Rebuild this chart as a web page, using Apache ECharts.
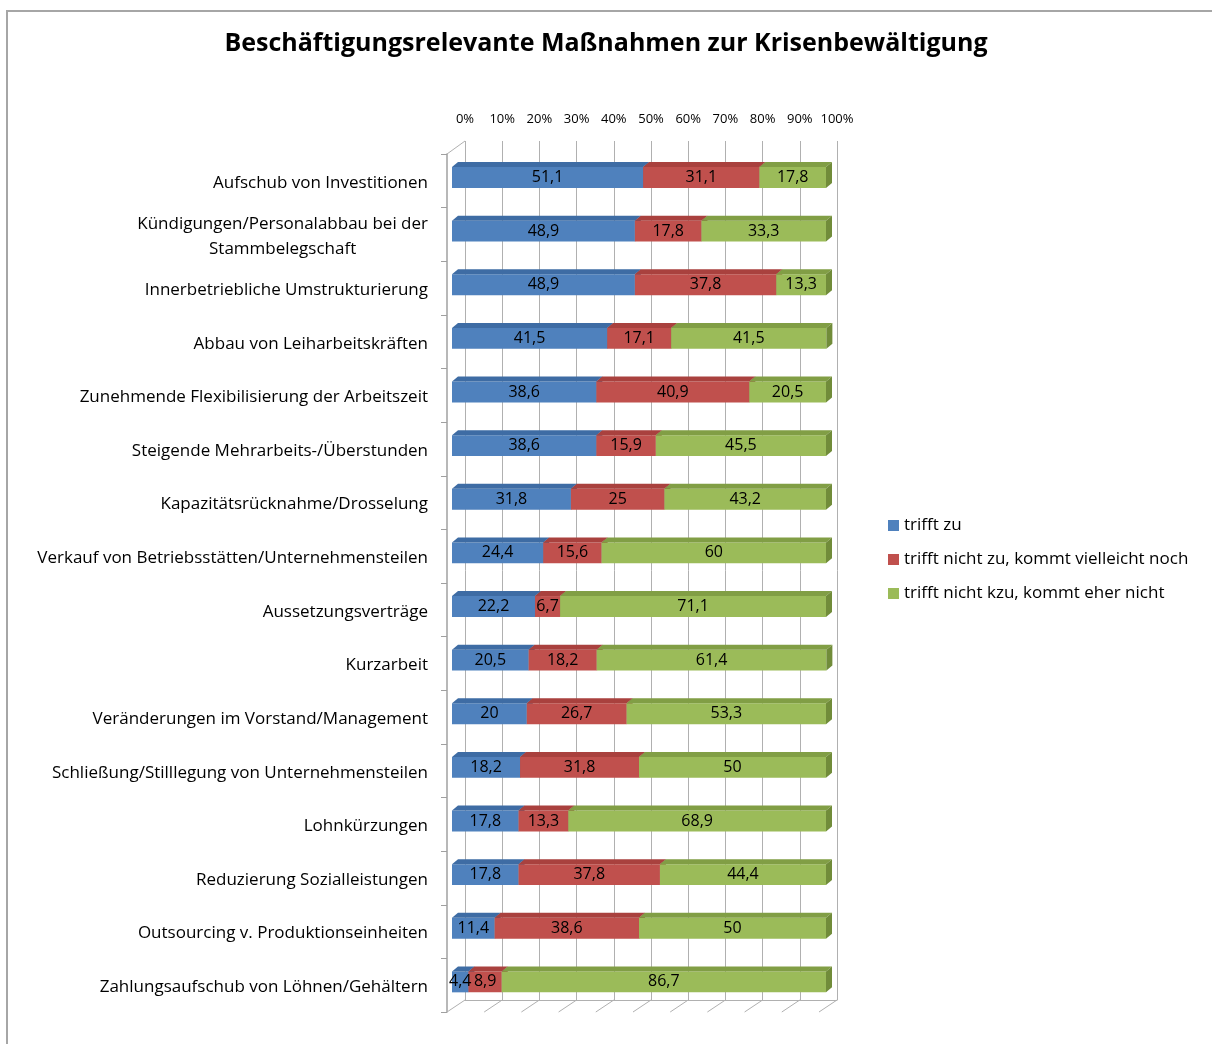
<!DOCTYPE html>
<html>
<head>
<meta charset="utf-8">
<script src="https://cdn.jsdelivr.net/npm/echarts@6/dist/echarts.min.js"></script>
<style>html,body{margin:0;padding:0;background:#fff}#c{width:1212px;height:1044px}</style>
</head>
<body>
<div id="c"></div>
<script>
const categories = [
  'Aufschub von Investitionen',
  'Kündigungen/Personalabbau bei der\nStammbelegschaft',
  'Innerbetriebliche Umstrukturierung',
  'Abbau von Leiharbeitskräften',
  'Zunehmende Flexibilisierung der Arbeitszeit',
  'Steigende Mehrarbeits-/Überstunden',
  'Kapazitätsrücknahme/Drosselung',
  'Verkauf von Betriebsstätten/Unternehmensteilen',
  'Aussetzungsverträge',
  'Kurzarbeit',
  'Veränderungen im Vorstand/Management',
  'Schließung/Stilllegung von Unternehmensteilen',
  'Lohnkürzungen',
  'Reduzierung Sozialleistungen',
  'Outsourcing v. Produktionseinheiten',
  'Zahlungsaufschub von Löhnen/Gehältern'
];
const seriesNames = ['trifft zu', 'trifft nicht zu, kommt vielleicht noch', 'trifft nicht kzu, kommt eher nicht'];
const trifftZu = [51.1, 48.9, 48.9, 41.5, 38.6, 38.6, 31.8, 24.4, 22.2, 20.5, 20, 18.2, 17.8, 17.8, 11.4, 4.4];
const vielleicht = [31.1, 17.8, 37.8, 17.1, 40.9, 15.9, 25, 15.6, 6.7, 18.2, 26.7, 31.8, 13.3, 37.8, 38.6, 8.9];
const eherNicht = [17.8, 33.3, 13.3, 41.5, 20.5, 45.5, 43.2, 60, 71.1, 61.4, 53.3, 50, 68.9, 44.4, 50, 86.7];
const xTicks = [0, 10, 20, 30, 40, 50, 60, 70, 80, 90, 100];

const FONT = '"Open Sans"';
const colors = ['#4F81BD', '#C0504D', '#9BBB59'];
const topColors = ['#3E6CA4', '#A9413E', '#819E45'];
const sideColors = ['#36608F', '#943936', '#718C3A'];

const allValues = [trifftZu, vielleicht, eherNicht];
const starts = [[], [], []];
categories.forEach((c, i) => {
  let acc = 0;
  for (let s = 0; s < 3; s++) {
    starts[s][i] = [acc, acc + allValues[s][i], i, allValues[s][i]];
    acc += allValues[s][i];
  }
});

function fmt(v) { return String(v).replace('.', ','); }

function makeRender(si) {
  return function (params, api) {
    const s = api.value(0), e = api.value(1), c = api.value(2), v = api.value(3);
    const p0 = api.coord([s, c]);
    const p1 = api.coord([e, c]);
    const h = api.size([0, 1])[1] * 0.39;
    const top = p0[1] - h / 2;
    const bot = top + h;
    const dx = 6, dy = 5;
    const x0 = p0[0], x1 = p1[0];
    return {
      type: 'group',
      children: [
        { type: 'rect', shape: { x: x0, y: top, width: x1 - x0, height: h }, style: { fill: colors[si] } },
        { type: 'polygon', shape: { points: [[x0, top], [x0 + dx, top - dy], [x1 + dx, top - dy], [x1, top]] }, style: { fill: topColors[si] } },
        { type: 'polygon', shape: { points: [[x1, top], [x1 + dx, top - dy], [x1 + dx, bot - dy], [x1, bot]] }, style: { fill: sideColors[si] } },
        { type: 'text', z2: 100, style: { x: (x0 + x1) / 2, y: (top + bot) / 2, text: fmt(v), align: 'center', verticalAlign: 'middle', fontFamily: FONT, fontSize: 16, fill: '#000' } }
      ]
    };
  };
}

const floorData = xTicks.map(t => [t, 0]);

const chart = echarts.init(document.getElementById('c'));
chart.setOption({
  animation: false,
  backgroundColor: '#fff',
  title: {
    text: 'Beschäftigungsrelevante Maßnahmen zur Krisenbewältigung',
    left: 'center', top: 26,
    textStyle: { fontFamily: FONT, fontSize: 25, fontWeight: 'bold', color: '#000' }
  },
  legend: {
    orient: 'vertical', left: 883, top: 512,
    itemWidth: 11, itemHeight: 11, itemGap: 17,
    icon: 'rect',
    textStyle: { fontFamily: FONT, fontSize: 17, color: '#000' },
    data: seriesNames
  },
  graphic: [
    { type: 'rect', shape: { x: 7, y: 11, width: 1300, height: 1100 }, style: { fill: 'none', stroke: '#a6a6a6', lineWidth: 2 }, silent: true }
  ],
  grid: [
    { left: 452, top: 150.7, width: 374, height: 858 },   // bars
    { left: 465, top: 141, width: 372, height: 859 },     // back wall
    { left: 447, top: 154, width: 373, height: 858 }      // category axis (front)
  ],
  xAxis: [
    { gridIndex: 0, type: 'value', min: 0, max: 100, show: false },
    { gridIndex: 1, type: 'value', min: 0, max: 100, interval: 10, position: 'top',
      axisLine: { show: true, lineStyle: { color: '#b0b0b0', width: 1 } },
      axisTick: { show: true, length: 5, lineStyle: { color: '#b0b0b0' } },
      splitLine: { show: true, lineStyle: { color: '#b0b0b0', width: 1 } },
      axisLabel: { margin: 15, formatter: '{value}%', fontFamily: FONT, fontSize: 13, color: '#000' } },
    { gridIndex: 2, type: 'value', min: 0, max: 100, show: false }
  ],
  yAxis: [
    { gridIndex: 0, type: 'category', data: categories, inverse: true, show: false },
    { gridIndex: 1, type: 'value', min: 0, max: 1, show: false },
    { gridIndex: 2, type: 'category', data: categories, inverse: true,
      axisLine: { show: true, lineStyle: { color: '#a0a0a0', width: 1.5 } },
      axisTick: { show: true, length: 6, lineStyle: { color: '#a0a0a0' } },
      axisLabel: { margin: 19, fontFamily: FONT, fontSize: 17, color: '#000', lineHeight: 25, padding: [4, 0, 0, 0],
        formatter: function (v) {
          if (v.indexOf('\n') >= 0) return v.split('\n').map(l => '{c|' + l + '}').join('\n');
          return v;
        },
        rich: { c: { align: 'center', fontFamily: FONT, fontSize: 17, color: '#000', lineHeight: 25 } } }
    }
  ],
  series: [
    {
      type: 'custom', name: 'floor', xAxisIndex: 1, yAxisIndex: 1, silent: true,
      data: floorData,
      renderItem: function (params, api) {
        const p = api.coord([api.value(0), 0]);
        const children = [{ type: 'line', shape: { x1: p[0], y1: p[1], x2: p[0] - 18, y2: p[1] + 12 }, style: { stroke: '#b0b0b0', lineWidth: 1 } }];
        if (api.value(0) === 0) {
          const q = api.coord([0, 1]);
          children.push({ type: 'line', shape: { x1: q[0], y1: q[1], x2: q[0] - 18, y2: q[1] + 13 }, style: { stroke: '#b0b0b0', lineWidth: 1 } });
        }
        return { type: 'group', children: children };
      }
    },
    { type: 'custom', name: seriesNames[0], xAxisIndex: 0, yAxisIndex: 0, itemStyle: { color: colors[0] }, data: starts[0], renderItem: makeRender(0) },
    { type: 'custom', name: seriesNames[1], xAxisIndex: 0, yAxisIndex: 0, itemStyle: { color: colors[1] }, data: starts[1], renderItem: makeRender(1) },
    { type: 'custom', name: seriesNames[2], xAxisIndex: 0, yAxisIndex: 0, itemStyle: { color: colors[2] }, data: starts[2], renderItem: makeRender(2) }
  ]
});
</script>
</body>
</html>
